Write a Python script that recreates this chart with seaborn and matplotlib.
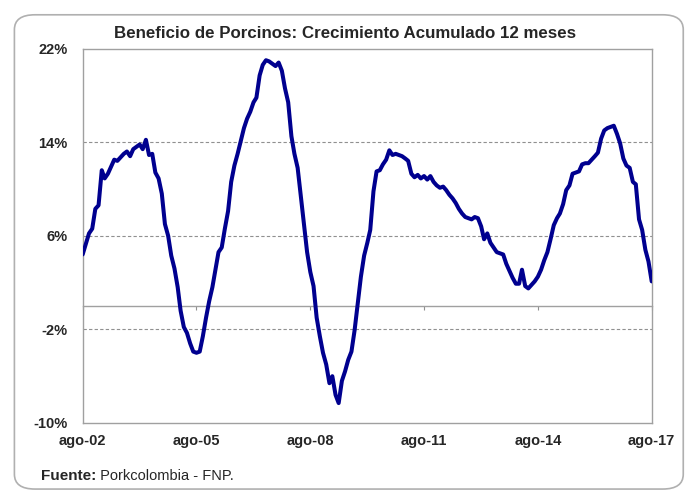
import pandas as pd
import seaborn as sns
import matplotlib.pyplot as plt
from matplotlib.patches import FancyBboxPatch

# monthly values, ago-2002 .. ago-2017 (% growth, 12-month accumulated)
start_month = "2002-08-01"
growth = [
    4.4, 5.3, 6.2, 6.6, 8.3, 8.6, 11.6, 10.9, 11.3, 11.9,
    12.5, 12.4, 12.7, 13.0, 13.2, 12.8, 13.4, 13.6, 13.8, 13.4,
    14.2, 12.9, 13.0, 11.4, 10.9, 9.6, 7.0, 6.0, 4.3, 3.2,
    1.6, -0.4, -1.8, -2.3, -3.2, -3.9, -4.0, -3.9, -2.6, -1.0,
    0.4, 1.6, 3.2, 4.6, 5.0, 6.6, 8.1, 10.6, 12.0, 13.0,
    14.1, 15.2, 16.0, 16.6, 17.4, 17.8, 19.7, 20.6, 21.0, 20.9,
    20.7, 20.5, 20.8, 20.1, 18.6, 17.4, 14.5, 13.0, 11.8, 9.4,
    7.0, 4.6, 2.9, 1.7, -1.0, -2.6, -4.0, -5.0, -6.6, -6.0,
    -7.6, -8.3, -6.4, -5.6, -4.6, -3.9, -2.1, 0.2, 2.5, 4.3,
    5.4, 6.5, 9.8, 11.5, 11.6, 12.1, 12.5, 13.3, 12.9, 13.0,
    12.9, 12.8, 12.6, 12.4, 11.3, 11.0, 11.2, 10.9, 11.1, 10.8,
    11.1, 10.6, 10.3, 10.1, 10.2, 9.9, 9.5, 9.2, 8.8, 8.3,
    7.9, 7.6, 7.5, 7.4, 7.6, 7.5, 6.8, 5.7, 6.2, 5.4,
    5.0, 4.6, 4.5, 4.4, 3.6, 3.0, 2.4, 1.9, 1.9, 3.1,
    1.7, 1.5, 1.8, 2.1, 2.5, 3.1, 3.9, 4.6, 5.7, 6.9,
    7.5, 7.9, 8.7, 9.9, 10.3, 11.3, 11.4, 11.5, 12.1, 12.2,
    12.2, 12.5, 12.8, 13.1, 14.3, 15.0, 15.2, 15.3, 15.4, 14.7,
    13.9, 12.6, 12.0, 11.8, 10.6, 10.4, 7.4, 6.5, 4.8, 3.8,
    2.1,
]
x_tick_dates = ["2002-08-01", "2005-08-01", "2008-08-01",
                "2011-08-01", "2014-08-01", "2017-08-01"]
x_tick_labels = ["ago-02", "ago-05", "ago-08", "ago-11", "ago-14", "ago-17"]
y_ticks = [-10, -2, 6, 14, 22]
grid_levels = [-2, 6, 14]

df = pd.DataFrame({
    "fecha": pd.date_range(start_month, periods=len(growth), freq="MS"),
    "crecimiento": growth,
})

sns.set_style("white")
plt.rcParams["font.family"] = ["Liberation Sans", "DejaVu Sans"]

fig = plt.figure(figsize=(6.86, 4.93), dpi=100)
ax = fig.add_axes([0.1205, 0.142, 0.8295, 0.7596])

# rounded frame around the whole chart
frame = FancyBboxPatch((0.021, 0.008), 0.975, 0.962,
                       boxstyle="round,pad=0,rounding_size=0.03",
                       transform=fig.transFigure, facecolor="none",
                       edgecolor="#b0b0b0", linewidth=1.2, zorder=0)
fig.patches.append(frame)

for lvl in grid_levels:
    ax.axhline(lvl, color="#909090", linestyle=(0, (3, 2)), linewidth=0.8, zorder=1)

sns.lineplot(data=df, x="fecha", y="crecimiento", ax=ax,
             color="#00008f", linewidth=2.9, zorder=3)

ax.set_xlim(df["fecha"].iloc[0], df["fecha"].iloc[-1])
ax.set_ylim(y_ticks[0], y_ticks[-1])
ax.set_yticks(y_ticks)
ax.set_yticklabels([f"{v}%" for v in y_ticks])
ax.set_xticks(pd.to_datetime(x_tick_dates))
ax.set_xticklabels(x_tick_labels)
ax.tick_params(axis="both", length=0, labelsize=10.5)
ax.tick_params(axis="y", pad=11)
ax.tick_params(axis="x", pad=8)
for lab in ax.get_xticklabels() + ax.get_yticklabels():
    lab.set_fontweight("bold")
ax.set_xlabel("")
ax.set_ylabel("")
for sp in ax.spines.values():
    sp.set_color("#a0a0a0")
    sp.set_linewidth(1.0)

# zero line with small tick marks
zero_axis = ax.secondary_xaxis(0, transform=ax.transData)
zero_axis.set_xticks(pd.to_datetime(x_tick_dates))
zero_axis.set_xticklabels([])
zero_axis.tick_params(length=3, color="#909090", direction="out")
zero_axis.spines["bottom"].set_color("#a0a0a0")
zero_axis.spines["bottom"].set_linewidth(1.0)

fig.text(0.503, 0.933, "Beneficio de Porcinos: Crecimiento Acumulado 12 meses",
         ha="center", va="center", fontsize=12.2, fontweight="bold")

src = fig.text(0.060, 0.034, "Fuente:", ha="left", va="center",
               fontsize=11, fontweight="bold")
ax.annotate(" Porkcolombia - FNP.", xy=(1, 0.5), xycoords=src,
            ha="left", va="center", fontsize=10.5, annotation_clip=False)

fig.savefig("out.png", dpi=100)
